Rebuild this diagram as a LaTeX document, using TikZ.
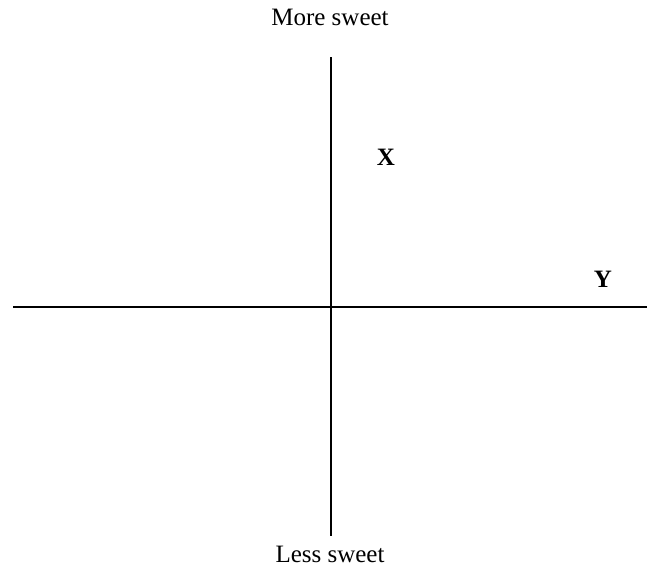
\documentclass[tikz,border=0pt]{standalone}
\usepackage{fontspec}
\setmainfont{Liberation Serif}
\begin{document}
\begin{tikzpicture}[x=1pt,y=-1pt,
  axis/.style={line width=1.3pt,black},
  lbl/.style={font=\fontsize{25}{28}\selectfont,inner sep=0pt},
  pt/.style={font=\fontsize{25}{28}\selectfont\bfseries,inner sep=0pt}]
\useasboundingbox (0,0) rectangle (647,568);
\coordinate (L) at (13,307);
\coordinate (R) at (647,307);
\coordinate (T) at (331,57);
\coordinate (B) at (331,536);
\draw[axis] (L) -- (R);
\draw[axis] (T) -- (B);
\node[lbl] (more) at (330,17.5) {More sweet};
\node[lbl] (less) at (330,554) {Less sweet};
\node[pt] (X) at (386,157) {X};
\node[pt] (Y) at (603,279) {Y};
\end{tikzpicture}
\end{document}
